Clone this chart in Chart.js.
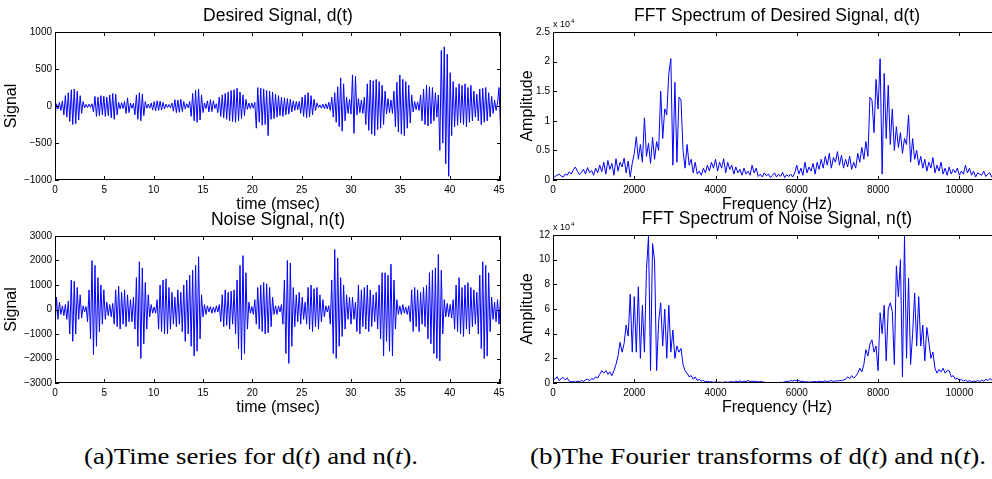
<!DOCTYPE html>
<html>
<head>
<meta charset="utf-8">
<script src="https://cdn.jsdelivr.net/npm/chart.js@4.4.1/dist/chart.umd.min.js"></script>
<style>
html, body { margin: 0; padding: 0; background: #fff; width: 992px; height: 479px; overflow: hidden; }
canvas { position: absolute; }
.caption {
    position: absolute;
    font-family: "Liberation Serif", "DejaVu Serif", serif;
    font-size: 24px;
    line-height: 24px;
    white-space: nowrap;
    color: #000;
    transform-origin: 0 0;
}
</style>
</head>
<body>
<canvas id="desiredChart" width="513" height="220" style="left:0px;top:0px"></canvas>
<canvas id="noiseChart" width="513" height="219" style="left:0px;top:204px"></canvas>
<canvas id="desiredFftChart" width="510" height="220" style="left:503px;top:0px"></canvas>
<canvas id="noiseFftChart" width="510" height="220" style="left:503px;top:203px"></canvas>
<div id="capA" class="caption" style="left:84px;top:444px">(a)Time series for d(<i>t</i>) and n(<i>t</i>).</div>
<div id="capB" class="caption" style="left:530px;top:444px">(b)The Fourier transforms of d(<i>t</i>) and n(<i>t</i>).</div>
<script>
// time axis: one sample every 0.15 ms
const timeStep = 0.15;
const timeTicks = [0, 5, 10, 15, 20, 25, 30, 35, 40, 45];

// desired signal d(t), one row = 3 ms
const desiredSignal = [
    -150, 30, -40, 50, -60, 70, -120, 140, -150, 180, -210, 220, -250, 230, -240, 200, -190, 140, -100, 60,
    -25, 20, -20, 25, -20, 30, -80, 130, -140, 120, -130, 140, -120, 130, -140, 120, -130, 150, -160, 170,
    -180, 160, -120, 50, -40, 45, -35, 60, -100, 110, -90, 40, -30, 35, -120, 150, -180, 180, -200, 160,
    -130, 60, -30, 25, -30, 40, -55, 60, -65, 70, -60, 65, -55, 50, -40, 25, -20, 20, -25, 40,
    -70, 85, -90, 80, -85, 90, -75, 60, -40, 30, -25, 60, -140, 170, -200, 210, -220, 230, -190, 150,
    -90, 40, -35, 70, -80, 85, -75, 70, -35, 30, -90, 120, -140, 150, -160, 170, -180, 190, -200, 210,
    -210, 220, -220, 240, -200, 190, -170, 150, -130, 90, -45, 40, -35, 40, -30, 50, -300, 250, -220, 240,
    -260, 230, -250, 210, -400, 200, -180, 190, -170, 160, -150, 140, -130, 120, -140, 110, -120, 100, -110, 90,
    -80, 70, -60, 60, -50, 60, -100, 120, -140, 150, -160, 180, -150, 140, -120, 90, -60, 40, -20, 15,
    -30, 25, -35, 30, -40, 50, -60, 120, -150, 180, -220, 260, -280, 380, -340, 300, -200, 120, -100, 90,
    -110, 420, -370, 400, -120, 100, -90, 80, -100, 120, -250, 300, -330, 350, -380, 340, -400, 360, -320, 330,
    -300, 280, -250, 200, -110, 100, -90, 80, -100, 200, -280, 320, -350, 420, -380, 360, -400, 330, -300, 280,
    -230, 150, -80, 60, -50, 55, -60, 150, -200, 230, -250, 280, -270, 260, -240, 250, -200, 180, -150, 150,
    -600, 750, -500, 800, -780, 700, -950, 450, -400, 330, -280, 250, -260, 300, -230, 280, -250, 300, -280, 250,
    -220, 280, -200, 200, -150, 160, -200, 230, -250, 240, -220, 250, -200, 180, -150, 130, -100, 80, -60, 50,
    250, -300
];

// noise signal n(t), one row = 3 ms
const noiseSignal = [
    -750, 500, -400, 300, -200, 150, -250, 200, -400, 350, -1000, 1200, -1300, 1150, -1000, 900, -400, 600, -350, 150,
    -100, 120, -500, 800, -1200, 2000, -1850, 1800, -1500, 1300, -900, 1000, -600, 800, -400, 300, -250, 200, -300, 250,
    -600, 800, -700, 950, -800, 700, -600, 800, -700, 600, -500, 400, -500, 500, -800, 1300, -1500, 1950, -2000, 1700,
    -1400, 1100, -800, 600, -300, 200, -150, 100, -150, 400, -800, 1000, -900, 1200, -1000, 1250, -1000, 900, -800, 700,
    -600, 500, -700, 800, -600, 700, -900, 1000, -1300, 1200, -1000, 1400, -1500, 1600, -1900, 1800, -1700, 2150, -1200, 600,
    -300, 200, -200, 150, -100, 120, -150, 100, -120, 150, -100, 200, -500, 600, -700, 800, -650, 700, -800, 750,
    -600, 800, -1000, 1200, -1600, 1800, -2050, 2200, -1800, 1500, -800, 300, -150, 120, -200, 400, -600, 900, -800, 1000,
    -900, 1100, -1000, 1050, -950, 900, -700, 500, -200, 150, -200, 150, -100, 200, -600, 1200, -1800, 2000, -2200, 1900,
    -1500, 900, -700, 600, -500, 700, -600, 500, -400, 300, -600, 900, -800, 1000, -900, 850, -700, 900, -800, 600,
    -500, 400, -300, 150, -100, 150, -600, 1200, -1800, 2450, -2000, 2100, -1500, 1300, -1100, 1000, -800, 600, -400, 500,
    -600, 500, -400, 300, -900, 1000, -1000, 800, -700, 900, -800, 1000, -900, 800, -700, 600, -500, 700, -800, 1000,
    -1200, 1500, -1900, 1500, -1300, 1400, -1700, 1850, -1900, 1200, -800, 400, -200, 150, -200, 200, -150, 100, -200, 150,
    -500, 800, -900, 900, -700, 800, -900, 700, -600, 900, -700, 1000, -1200, 1500, -1400, 1600, -1800, 1700, -2000, 2250,
    -2100, 1600, -1000, 400, -300, 250, -300, 200, -350, 400, -800, 1000, -900, 1300, -1000, 900, -1100, 1000, -800, 1100,
    -1000, 900, -700, 800, -600, 700, -1000, 1400, -1600, 1950, -2000, 1800, -1900, 1500, -900, 500, -400, 300, -500, 400,
    -600, 500
];

// frequency axis: one bin every 50 Hz, amplitudes in units of 10^4
const freqStep = 50;
const freqTicks = [0, 2000, 4000, 6000, 8000, 10000];

// |FFT| of d(t), one row = 1000 Hz
const desiredSpectrum = [
    0.03, 0.06, 0.08, 0.1, 0.07, 0.05, 0.1, 0.08, 0.14, 0.1, 0.17, 0.22, 0.15, 0.09, 0.13, 0.18, 0.1, 0.21, 0.12, 0.16,
    0.08, 0.2, 0.12, 0.25, 0.14, 0.3, 0.1, 0.33, 0.18, 0.28, 0.08, 0.36, 0.15, 0.3, 0.22, 0.37, 0.12, 0.32, 0.05, 0.28,
    0.45, 0.73, 0.35, 0.6, 0.3, 1.05, 0.4, 0.62, 0.28, 0.72, 0.35, 0.65, 0.5, 1.5, 0.7, 1.2, 1.1, 1.8, 2.05, 0.25,
    1.65, 0.3, 1.4, 1.35, 0.5, 0.2, 0.6, 0.25, 0.35, 0.12, 0.3, 0.1, 0.15, 0.08, 0.2, 0.12, 0.25, 0.15, 0.3, 0.2,
    0.35, 0.15, 0.3, 0.2, 0.36, 0.12, 0.3, 0.18, 0.25, 0.1, 0.22, 0.12, 0.18, 0.08, 0.2, 0.1, 0.15, 0.08, 0.25, 0.12,
    0.2, 0.06, 0.1, 0.05, 0.12, 0.07, 0.1, 0.04, 0.08, 0.12, 0.05, 0.1, 0.06, 0.13, 0.04, 0.09, 0.06, 0.1, 0.05, 0.12,
    0.25, 0.1, 0.2, 0.08, 0.3, 0.12, 0.22, 0.15, 0.28, 0.1, 0.3, 0.18, 0.35, 0.2, 0.4, 0.25, 0.45, 0.2, 0.38, 0.3,
    0.48, 0.25, 0.42, 0.2, 0.35, 0.22, 0.4, 0.18, 0.3, 0.2, 0.45, 0.3, 0.55, 0.35, 0.65, 0.4, 1.4, 1.35, 0.8, 1.7,
    1.2, 2.05, 0.1, 1.8, 0.7, 1.6, 0.6, 1.2, 0.5, 0.9, 0.55, 0.8, 0.45, 0.7, 0.6, 1.1, 0.3, 0.7, 0.35, 0.5,
    0.25, 0.4, 0.2, 0.35, 0.15, 0.3, 0.2, 0.38, 0.12, 0.25, 0.15, 0.3, 0.1, 0.2, 0.08, 0.22, 0.1, 0.18, 0.12, 0.2,
    0.08, 0.15, 0.1, 0.25, 0.12, 0.2, 0.08, 0.15, 0.05, 0.12, 0.1, 0.08, 0.15, 0.06, 0.1, 0.12, 0.05, 0.08, 0.1, 0.06,
    0.05
];

// |FFT| of n(t), one row = 1000 Hz
const noiseSpectrum = [
    0.4, 0.3, 0.5, 0.2, 0.35, 0.45, 0.25, 0.4, 0.15, 0.1, 0.12, 0.08, 0.15, 0.1, 0.2, 0.12, 0.25, 0.3, 0.2, 0.35,
    0.3, 0.5, 0.4, 0.7, 1.0, 0.8, 1.0, 0.7, 0.9, 0.6, 1.0, 1.5, 2.2, 3.3, 2.5, 3.2, 4.7, 3.8, 7.2, 2.5,
    7.0, 2.5, 7.8, 2.0, 6.3, 2.5, 9.2, 11.9, 1.0, 11.3, 9.9, 1.0, 5.0, 6.5, 3.0, 6.0, 2.0, 6.3, 2.5, 4.3,
    2.0, 3.0, 2.5, 2.8, 1.5, 1.0, 0.8, 0.5, 0.6, 0.3, 0.5, 0.2, 0.3, 0.15, 0.2, 0.1, 0.15, 0.08, 0.12, 0.05,
    0.1, 0.05, 0.08, 0.04, 0.06, 0.1, 0.05, 0.08, 0.12, 0.06, 0.15, 0.1, 0.18, 0.08, 0.15, 0.12, 0.2, 0.1, 0.15, 0.12,
    0.15, 0.08, 0.12, 0.1, 0.06, 0.03, 0.05, 0.02, 0.04, 0.03, 0.05, 0.02, 0.06, 0.04, 0.1, 0.15, 0.12, 0.2, 0.15, 0.22,
    0.18, 0.2, 0.12, 0.15, 0.08, 0.1, 0.06, 0.08, 0.1, 0.12, 0.08, 0.15, 0.1, 0.12, 0.18, 0.1, 0.15, 0.2, 0.12, 0.18,
    0.15, 0.2, 0.18, 0.25, 0.3, 0.5, 0.35, 0.6, 0.4, 0.55, 0.8, 1.2, 0.9, 1.5, 2.7, 2.2, 3.15, 3.5, 2.5, 3.0,
    1.0, 5.7, 4.0, 6.3, 1.8, 6.0, 6.5, 5.8, 1.5, 9.5, 7.0, 10.0, 0.5, 11.9, 2.0, 8.5, 1.5, 4.0, 7.3, 3.0,
    7.0, 3.0, 4.7, 1.8, 4.5, 3.3, 2.0, 2.5, 1.2, 0.8, 1.1, 0.9, 1.2, 0.8, 1.0, 1.0, 0.5, 0.6, 0.3, 0.4,
    0.2, 0.3, 0.15, 0.25, 0.12, 0.2, 0.1, 0.15, 0.12, 0.2, 0.1, 0.25, 0.15, 0.3, 0.2, 0.35, 0.25, 0.4, 0.3, 0.35,
    0.3
];

Chart.defaults.font.family = '"Liberation Sans", Arial, Helvetica, sans-serif';
Chart.defaults.color = '#000';

// MATLAB style frame: closed box, ticks pointing inward on all four sides
function framePlugin(sciLabel) {
    return {
        id: 'frame',
        afterDraw(chart) {
            const { ctx, chartArea: a, scales: { x, y } } = chart;
            const tickLen = 4;
            ctx.save();
            ctx.strokeStyle = '#000';
            ctx.lineWidth = 1;
            ctx.beginPath();
            x.ticks.forEach((t) => {
                const px = Math.round(x.getPixelForValue(t.value)) + 0.5;
                ctx.moveTo(px, a.bottom);
                ctx.lineTo(px, a.bottom - tickLen);
                ctx.moveTo(px, a.top);
                ctx.lineTo(px, a.top + tickLen);
            });
            y.ticks.forEach((t) => {
                const py = Math.round(y.getPixelForValue(t.value)) + 0.5;
                ctx.moveTo(a.left, py);
                ctx.lineTo(a.left + tickLen, py);
                ctx.moveTo(a.right, py);
                ctx.lineTo(a.right - tickLen, py);
            });
            ctx.stroke();
            ctx.strokeRect(a.left + 0.5, a.top + 0.5, a.width - 1, a.height - 1);
            if (sciLabel) {
                ctx.fillStyle = '#000';
                ctx.textBaseline = 'alphabetic';
                ctx.font = '9px "Liberation Sans", Arial, sans-serif';
                ctx.fillText('x 10', a.left, a.top - 5);
                const w = ctx.measureText('x 10').width;
                ctx.font = '6px "Liberation Sans", Arial, sans-serif';
                ctx.fillText('4', a.left + w + 1, a.top - 9);
            }
            ctx.restore();
        }
    };
}

function tickText(v) {
    return v < 0 ? '\u2212' + Math.abs(v) : String(v);
}

function makeChart(id, values, step, cfg) {
    const points = values.map((v, i) => ({ x: i * step, y: v }));
    return new Chart(document.getElementById(id), {
        type: 'line',
        data: {
            datasets: [{
                data: points,
                borderColor: '#0000ff',
                borderWidth: 1,
                pointRadius: 0,
                tension: 0
            }]
        },
        options: {
            responsive: false,
            animation: false,
            events: [],
            parsing: false,
            layout: { padding: { left: 0, top: 0, right: 12, bottom: 0 } },
            plugins: {
                legend: { display: false },
                tooltip: { enabled: false },
                title: {
                    display: true,
                    text: cfg.title,
                    fullSize: false,
                    color: '#000',
                    font: { size: 17.5, weight: 'normal' },
                    padding: { top: 6, bottom: 5 }
                }
            },
            scales: {
                x: {
                    type: 'linear',
                    min: 0,
                    max: cfg.xMax,
                    afterFit: (s) => { s.height = 40; },
                    afterBuildTicks: (s) => { s.ticks = cfg.xTicks.map((v) => ({ value: v })); },
                    grid: { display: false, drawTicks: false },
                    border: { display: false },
                    ticks: { autoSkip: false, maxRotation: 0, padding: 4, font: { size: 10 }, color: '#000', callback: tickText },
                    title: { display: true, text: cfg.xTitle, color: '#000', font: { size: 16 }, padding: { top: 0, bottom: 6 } }
                },
                y: {
                    min: cfg.yMin,
                    max: cfg.yMax,
                    afterFit: (s) => { s.width = cfg.yWidth; },
                    afterBuildTicks: (s) => { s.ticks = cfg.yTicks.map((v) => ({ value: v })); },
                    grid: { display: false, drawTicks: false },
                    border: { display: false },
                    ticks: { autoSkip: false, padding: 3, font: { size: 10 }, color: '#000', callback: tickText },
                    title: { display: true, text: cfg.yTitle, color: '#000', font: { size: 16 }, padding: { top: cfg.yTitlePad, bottom: 0 } }
                }
            }
        },
        plugins: [framePlugin(cfg.sci)]
    });
}

makeChart('desiredChart', desiredSignal, timeStep, {
    title: 'Desired Signal, d(t)', xTitle: 'time (msec)', yTitle: 'Signal',
    xMax: 45.2, xTicks: timeTicks, yMin: -1000, yMax: 1000, yTicks: [-1000, -500, 0, 500, 1000],
    yWidth: 55, yTitlePad: 2.4, sci: false
});
makeChart('noiseChart', noiseSignal, timeStep, {
    title: 'Noise Signal, n(t)', xTitle: 'time (msec)', yTitle: 'Signal',
    xMax: 45.2, xTicks: timeTicks, yMin: -3000, yMax: 3000, yTicks: [-3000, -2000, -1000, 0, 1000, 2000, 3000],
    yWidth: 55, yTitlePad: 2.4, sci: false
});
makeChart('desiredFftChart', desiredSpectrum, freqStep, {
    title: 'FFT Spectrum of Desired Signal, d(t)', xTitle: 'Frequency (Hz)', yTitle: 'Amplitude',
    xMax: 11025, xTicks: freqTicks, yMin: 0, yMax: 2.5, yTicks: [0, 0.5, 1, 1.5, 2, 2.5],
    yWidth: 50, yTitlePad: 15, sci: true
});
makeChart('noiseFftChart', noiseSpectrum, freqStep, {
    title: 'FFT Spectrum of Noise Signal, n(t)', xTitle: 'Frequency (Hz)', yTitle: 'Amplitude',
    xMax: 11025, xTicks: freqTicks, yMin: 0, yMax: 12, yTicks: [0, 2, 4, 6, 8, 10, 12],
    yWidth: 50, yTitlePad: 15, sci: true
});

// stretch the serif captions to the width they have in the figure
function fitCaption(id, width) {
    const el = document.getElementById(id);
    const natural = el.getBoundingClientRect().width;
    el.style.transform = 'scaleX(' + (width / natural).toFixed(3) + ')';
}
fitCaption('capA', 334);
fitCaption('capB', 456);
</script>
</body>
</html>
